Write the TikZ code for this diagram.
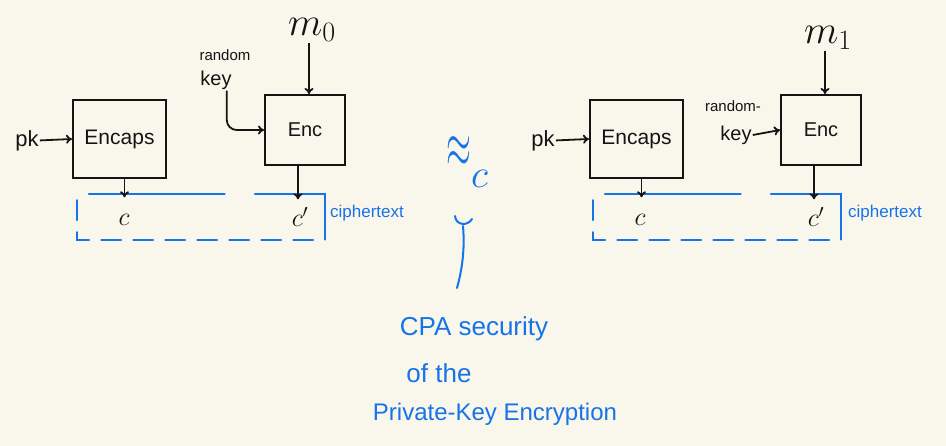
\RequirePackage{fix-cm}
\documentclass[tikz,border=0pt]{standalone}
\usepackage{fontspec}
\setmainfont{Liberation Sans}
\usetikzlibrary{arrows.meta}
\definecolor{paper}{RGB}{249,247,236}
\definecolor{ink}{RGB}{20,20,20}
\definecolor{pen}{RGB}{22,115,232}
\newcommand{\myfs}[1]{\fontsize{#1}{#1}\selectfont}
\begin{document}
\begin{tikzpicture}[x=1pt,y=-1pt]
\tikzset{
  box/.style={draw=ink, line width=2pt, inner sep=0pt, text=ink},
  lbl/.style={text=ink, inner sep=1pt},
  arr/.style={draw=ink, line width=1.8pt, -{To[length=6pt,width=9pt]}},
  ctbox/.style={minimum width=248pt, minimum height=45pt, inner sep=0pt},
  edge/.style={draw=pen, line width=1.8pt, line cap=round},
  edgedash/.style={edge, dash pattern=on 20pt off 12pt},
  bluetxt/.style={text=pen, inner sep=1pt},
  blueline/.style={draw=pen, line width=2pt, line cap=round},
}
\fill[paper] (0,0) rectangle (946,446);
\useasboundingbox (0,0) rectangle (946,446);

% ---------- left ----------
\node[box, minimum width=93pt, minimum height=78pt, font=\myfs{21}] (encapsL) at (119.5,139) {Encaps};
\node[box, minimum width=80pt, minimum height=70pt, font=\myfs{20}] (encL) at (305,130) {Enc};
\node[lbl, font=\myfs{22}] (pkL) at (27,141) {pk};
\node[lbl] (mL) at (312,30) {\myfs{40}$m_0$};
\node[lbl, font=\myfs{15}] (keyL1) at (225,55) {random};
\node[lbl, font=\myfs{20}] (keyL) at (216,80) {key};
\node[ctbox] (ctL) at (201,217) {};
\draw[edge] ([xshift=12pt]ctL.north west) -- ([xshift=148pt]ctL.north west);
\draw[edge] ([xshift=178pt]ctL.north west) -- (ctL.north east) -- (ctL.south east);
\draw[edgedash] ([xshift=-12pt]ctL.south east) -- (ctL.south west) -- ([yshift=-4pt]ctL.north west);
\node[lbl, font=\myfs{26}] (cL) at (124,220) {$c$};
\node[lbl, font=\myfs{26}] (cpL) at (300,217) {$c'$};
\node[bluetxt, font=\myfs{17}, anchor=west] (ctxtL) at (329,213) {ciphertext};

\draw[arr] (pkL) -- (encapsL.west);
\draw[arr] ([xshift=-3pt]mL.south) -- ([xshift=-3pt]mL.south |- encL.north);
\draw[arr, rounded corners=10pt] ([xshift=-6pt]keyL.south east) |- (encL.west);
\draw[arr] ([xshift=5pt]encapsL.south) -- ([xshift=5pt,yshift=-3pt]encapsL.south |- ctL.north);
\draw[arr] ([xshift=-7pt]encL.south) -- ([xshift=-7pt,yshift=-5pt]encL.south |- ctL.north);

% ---------- right ----------
\node[box, minimum width=93pt, minimum height=78pt, font=\myfs{21}] (encapsR) at (636.5,139) {Encaps};
\node[box, minimum width=80pt, minimum height=70pt, font=\myfs{20}] (encR) at (821,130) {Enc};
\node[lbl, font=\myfs{22}] (pkR) at (543,141) {pk};
\node[lbl] (mR) at (828,38) {\myfs{40}$m_1$};
\node[lbl, font=\myfs{15}] (keyR1) at (733,106) {random-};
\node[lbl, font=\myfs{20}] (keyR) at (736,135) {key};
\node[ctbox] (ctR) at (717,217) {};
\draw[edge] ([xshift=12pt]ctR.north west) -- ([xshift=148pt]ctR.north west);
\draw[edge] ([xshift=178pt]ctR.north west) -- (ctR.north east) -- (ctR.south east);
\draw[edgedash] ([xshift=-12pt]ctR.south east) -- (ctR.south west) -- ([yshift=-4pt]ctR.north west);
\node[lbl, font=\myfs{26}] (cR) at (640,220) {$c$};
\node[lbl, font=\myfs{26}] (cpR) at (816,217) {$c'$};
\node[bluetxt, font=\myfs{17}, anchor=west] (ctxtR) at (847,213) {ciphertext};

\draw[arr] (pkR) -- (encapsR.west);
\draw[arr] ([xshift=-3pt]mR.south) -- ([xshift=-3pt]mR.south |- encR.north);
\draw[arr] (keyR.east) -- (encR.west);
\draw[arr] ([xshift=5pt]encapsR.south) -- ([xshift=5pt,yshift=-3pt]encapsR.south |- ctR.north);
\draw[arr] ([xshift=-7pt]encR.south) -- ([xshift=-7pt,yshift=-5pt]encR.south |- ctR.north);

% ---------- middle ----------
\node[bluetxt] (approx) at (467,162) {\scalebox{0.8}[1.6]{\myfs{40}$\approx$}\raisebox{-20pt}{\myfs{40}$c$}};
\coordinate (hookL) at (455,216);
\coordinate (hookR) at (472,219);
\coordinate (hookBot) at (463,226);
\coordinate (lineEnd) at (457,288);
\draw[blueline] (hookL) .. controls (456,226) and (468,226) .. (hookR);
\draw[blueline] (hookBot) .. controls (465,250) and (462,270) .. (lineEnd);

\node[bluetxt, font=\myfs{26}] (cpa1) at (474,329) {CPA security};
\node[bluetxt, font=\myfs{26}] (cpa2) at (439,373) {of the};
\node[bluetxt, font=\myfs{24}] (cpa3) at (495,414) {Private-Key Encryption};
\end{tikzpicture}
\end{document}
